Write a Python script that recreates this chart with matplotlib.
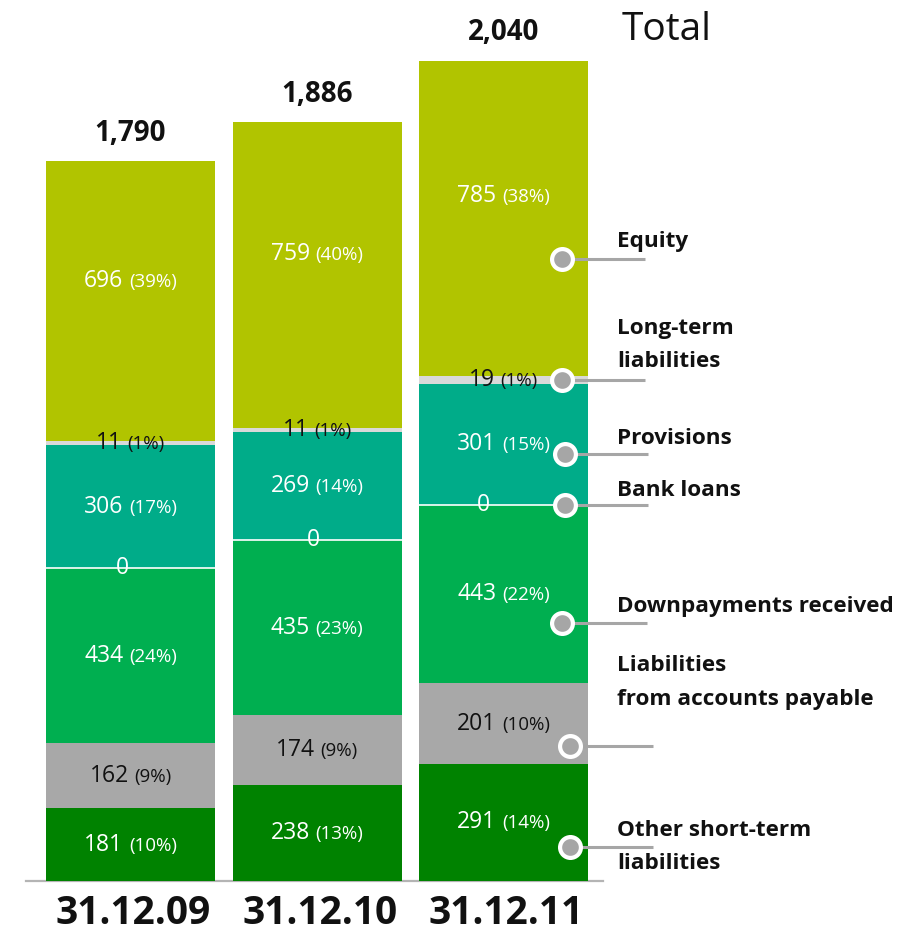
import matplotlib
matplotlib.use('Agg')
import matplotlib.pyplot as plt
from matplotlib.offsetbox import TextArea, HPacker, AnnotationBbox

plt.rcParams['font.family'] = ['Open Sans', 'DejaVu Sans']

# Balance sheet, liabilities side (EUR m)
dates = ['31.12.09', '31.12.10', '31.12.11']
totals = [1790, 1886, 2040]

# stacked bottom to top
other_st = [181, 238, 291]
other_st_pct = [10, 13, 14]
payables = [162, 174, 201]
payables_pct = [9, 9, 10]
downpay = [434, 435, 443]
downpay_pct = [24, 23, 22]
bank_loans = [0, 0, 0]
provisions = [306, 269, 301]
provisions_pct = [17, 14, 15]
longterm = [11, 11, 19]
longterm_pct = [1, 1, 1]
equity = [696, 759, 785]
equity_pct = [39, 40, 38]

legend_names = ['Other short-term\nliabilities', 'Liabilities\nfrom accounts payable',
                'Downpayments received', 'Bank loans', 'Provisions',
                'Long-term\nliabilities', 'Equity']

# (values, pct, bar colour, text colour, label pos in segment,
#  legend marker pos in last bar segment, marker px x, line end px, text dy px)
layers = [
    (other_st, other_st_pct, '#008200', 'white', 0.5, 0.29, 570, 653, 0),
    (payables, payables_pct, '#A8A8A8', '#111111', 0.5, 0.22, 570, 653, 64),
    (downpay, downpay_pct, '#00AF50', 'white', 0.5, 0.34, 562, 647, 16),
    (bank_loans, None, None, 'white', 0.0, 0.0, 565, 648, 14),
    (provisions, provisions_pct, '#00AC89', 'white', 0.5, 0.42, 565, 648, 16),
    (longterm, longterm_pct, '#D9D9D9', '#111111', 0.5, 0.5, 562, 645, 35),
    (equity, equity_pct, '#B1C400', 'white', 0.57, 0.37, 562, 645, 18),
]

PT = 0.72  # points per pixel at dpi 100
X0, DX = 130.5, 186.5


def px_to_x(px):
    return (px - X0) / DX


fig = plt.figure(figsize=(9.07, 9.34), dpi=100)
ax = fig.add_axes([0, 0, 1, 1])
ax.set_xlim(px_to_x(0), px_to_x(907))
ax.set_ylim(-131.8, 2190.5)
ax.axis('off')

W = 169 / DX
xs = list(range(len(dates)))


def seg_label(x, y, value, pct, color, dx=0):
    parts = [TextArea(f'{value:,}', textprops=dict(color=color, fontsize=16.5))]
    if pct is not None:
        parts.append(TextArea(f'({pct}%)', textprops=dict(color=color, fontsize=13.5)))
    box = HPacker(children=parts, align='baseline', pad=0, sep=4)
    ab = AnnotationBbox(box, (x, y), xybox=(dx * PT, 0), boxcoords='offset points',
                        frameon=False, box_alignment=(0.5, 0.5), pad=0, zorder=5)
    ax.add_artist(ab)


zero_dx = [-8, -4, -20]
bottoms = [0, 0, 0]
for (vals, pcts, color, tcol, lpos, mpos, mpx, lend, tdy), name in zip(layers, legend_names):
    if color is not None:
        ax.bar(xs, vals, width=W, bottom=bottoms, color=color, linewidth=0, zorder=2)
    for i in xs:
        if vals[i] == 0:
            ax.hlines(bottoms[i], i - W / 2, i + W / 2, color='white', lw=1.2, zorder=3)
            seg_label(i, bottoms[i], vals[i], None, tcol, dx=zero_dx[i])
        else:
            seg_label(i, bottoms[i] + vals[i] * lpos, vals[i], pcts[i], tcol)

    # legend marker on the last bar
    my = bottoms[-1] + vals[-1] * mpos
    ax.plot([px_to_x(mpx), px_to_x(lend)], [my, my], color='#A6A6A6', lw=2.2, zorder=6,
            solid_capstyle='butt')
    ax.plot(px_to_x(mpx), my, 'o', ms=15, mfc='#A6A6A6', mec='white', mew=3, zorder=7)
    ax.annotate(name, (px_to_x(617), my), xytext=(0, tdy * PT), textcoords='offset points',
                ha='left', va='center', fontsize=16.2, fontweight='bold', linespacing=1.8,
                color='#111111', zorder=8)

    bottoms = [b + v for b, v in zip(bottoms, vals)]

# totals above the bars
for i, t in zip(xs, totals):
    ax.annotate(f'{t:,}', (i, t), xytext=(0, 28 * PT), textcoords='offset points',
                ha='center', va='center', fontsize=20, fontweight='bold', color='#111111')
ax.annotate('Total', (xs[-1], totals[-1]), xytext=(163 * PT, 31 * PT),
            textcoords='offset points', ha='center', va='center', fontsize=28,
            color='#111111')

# baseline and dates
ax.plot([px_to_x(26), px_to_x(603)], [0, 0], color='#B4B4B4', lw=1.6, zorder=1)
for i, d in zip(xs, dates):
    ax.annotate(d, (i, 0), xytext=(3 * PT, -33 * PT), textcoords='offset points',
                ha='center', va='center', fontsize=28, fontweight='bold', color='#111111')

fig.savefig('out.png', dpi=100)
